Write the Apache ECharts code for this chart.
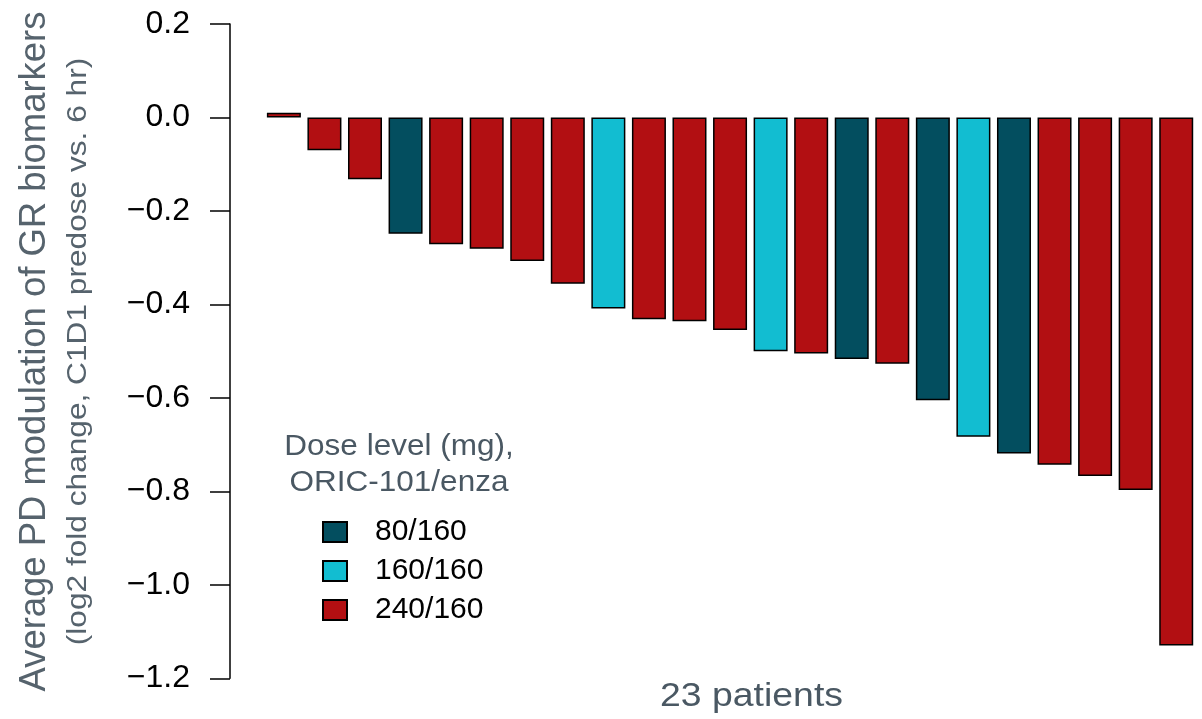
<!DOCTYPE html>
<html>
<head>
<meta charset="utf-8">
<script src="https://cdn.jsdelivr.net/npm/echarts@6/dist/echarts.min.js"></script>
<style>html,body{margin:0;padding:0;background:#fff}#c{width:1202px;height:719px}</style>
</head>
<body>
<div id="c"></div>
<script>
var patients = ['P1','P2','P3','P4','P5','P6','P7','P8','P9','P10','P11','P12','P13','P14','P15','P16','P17','P18','P19','P20','P21','P22','P23'];
var values = [0.01,-0.07,-0.132,-0.249,-0.271,-0.281,-0.307,-0.356,-0.409,-0.432,-0.436,-0.455,-0.500,-0.505,-0.517,-0.527,-0.605,-0.683,-0.719,-0.743,-0.767,-0.797,-1.13];
var doses = ['240/160','240/160','240/160','80/160','240/160','240/160','240/160','240/160','160/160','240/160','240/160','240/160','160/160','240/160','80/160','240/160','80/160','160/160','80/160','240/160','240/160','240/160','240/160'];
var doseLevels = ['80/160','160/160','240/160'];
var doseColors = ['#034e5f','#12bdd1','#b20f12'];
var yTicks = {min:-1.2, max:0.2, interval:0.2};

var series = doseLevels.map(function(d, k){
  return {
    name: d, type: 'bar', stack: 'all', barWidth: 34,
    itemStyle: {color: doseColors[k], borderColor: '#000', borderWidth: 1.5},
    data: values.map(function(v, i){ return doses[i] === d ? v : '-'; })
  };
});

var chart = echarts.init(document.getElementById('c'));
var F = '"Liberation Sans", Arial, sans-serif';
function font(sz){ return sz + 'px "Liberation Sans", Arial, sans-serif'; }
chart.setOption({
  animation: false,
  textStyle: {fontFamily: F},
  grid: {left: 263.6, right: 5.5, top: 24, bottom: 40.7},
  xAxis: {type: 'category', data: patients, axisLine:{show:false}, axisTick:{show:false}, axisLabel:{show:false}},
  yAxis: {
    type: 'value', min: yTicks.min, max: yTicks.max, interval: yTicks.interval, offset: 33.6,
    axisLine: {show: true, lineStyle: {color: '#000', width: 1.5}},
    axisTick: {show: true, length: 20, lineStyle: {color: '#000', width: 1.5}},
    splitLine: {show: false},
    axisLabel: {margin: 40, fontSize: 32, color: '#000', fontFamily: F,
      formatter: function(v){ if (Math.abs(v) < 1e-9) return '0.0'; return v.toFixed(1).replace('-', '\u2212'); }}
  },
  legend: {
    orient: 'vertical', left: 322, top: 517, itemWidth: 24, itemHeight: 20, itemGap: 9, padding: 0,
    icon: 'rect', selectedMode: false,
    textStyle: {fontSize: 30, lineHeight: 20, color: '#000', fontFamily: F, padding: [0,0,0,23]},
    data: doseLevels
  },
  graphic: [
    {type:'text', x: 35, y: 351.5, rotation: Math.PI/2, scaleX: 0.985, style:{text:'Average PD modulation of GR biomarkers', font: font(37), fill:'#56636d', align:'center', verticalAlign:'middle'}},
    {type:'text', x: 78, y: 351.5, rotation: Math.PI/2, scaleX: 1.13, style:{text:'(log2 fold change, C1D1 predose vs. 6 hr)', font: font(28), fill:'#56636d', align:'center', verticalAlign:'middle'}},
    {type:'text', x: 399, y: 447, scaleX: 1.05, style:{text:'Dose level (mg),', font: font(30), fill:'#4a5863', align:'center', verticalAlign:'middle'}},
    {type:'text', x: 399, y: 483, scaleX: 1.05, style:{text:'ORIC-101/enza', font: font(30), fill:'#4a5863', align:'center', verticalAlign:'middle'}},
    {type:'text', x: 751.5, y: 697, scaleX: 1.1, style:{text:'23 patients', font: font(34), fill:'#4a5863', align:'center', verticalAlign:'middle'}}
  ],
  series: series
});
</script>
</body>
</html>
